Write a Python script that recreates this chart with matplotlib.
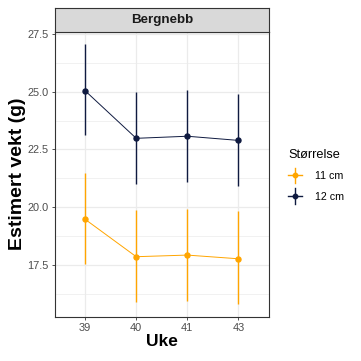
import matplotlib
matplotlib.use("Agg")
import matplotlib.pyplot as plt
from matplotlib.ticker import FixedLocator, FormatStrFormatter
from matplotlib.lines import Line2D
from matplotlib.legend_handler import HandlerBase

plt.rcParams['font.family'] = ['Liberation Sans', 'DejaVu Sans']

weeks = ["39", "40", "41", "43"]
series_names = ["11 cm", "12 cm"]
mean_11 = [19.47, 17.85, 17.92, 17.76]
low_11 = [17.52, 15.87, 15.94, 15.80]
high_11 = [21.49, 19.87, 19.91, 19.81]
mean_12 = [25.04, 22.98, 23.07, 22.89]
low_12 = [23.12, 21.01, 21.08, 20.92]
high_12 = [27.07, 24.99, 25.07, 24.90]
colors = ["#FFA500", "#0F1A40"]
facet_title = "Bergnebb"
y_ticks = [17.5, 20.0, 22.5, 25.0, 27.5]
y_minor = [16.25, 18.75, 21.25, 23.75, 26.25]

W = H = 361
fig = plt.figure(figsize=(W/100, H/100), dpi=100)

def box(l, t, r, b):
    return [l/W, 1 - b/H, (r-l)/W, (b-t)/H]

ax = fig.add_axes(box(54.5, 31.7, 269, 316.7))
strip = fig.add_axes(box(54.5, 7.5, 269, 31.7))

x = list(range(len(weeks)))
ax.set_xlim(-0.6, len(weeks) - 0.4)
ax.set_ylim(15.25, 27.6)

for v in y_ticks:
    ax.axhline(v, color="#EBEBEB", lw=0.9, zorder=0)
for v in y_minor:
    ax.axhline(v, color="#EBEBEB", lw=0.5, zorder=0)
for xi in x:
    ax.axvline(xi, color="#EBEBEB", lw=0.9, zorder=0)

for m, lo, hi, c in [(mean_11, low_11, high_11, colors[0]), (mean_12, low_12, high_12, colors[1])]:
    ax.vlines(x, lo, hi, color=c, lw=1.0, zorder=2)
    ax.plot(x, m, color=c, lw=0.7, zorder=2)
    ax.plot(x, m, 'o', color=c, ms=3.6, zorder=3)

ax.set_xticks(x)
ax.set_xticklabels(weeks)
ax.yaxis.set_major_locator(FixedLocator(y_ticks))
ax.yaxis.set_major_formatter(FormatStrFormatter('%.1f'))
ax.tick_params(axis='both', length=2.5, width=0.6, color="#333333", labelcolor="#4D4D4D",
               labelsize=7.9, pad=2)
for s in ax.spines.values():
    s.set_color("#333333")
    s.set_linewidth(0.8)

ax.set_ylabel("Estimert vekt (g)", fontsize=14, fontweight='bold', labelpad=0.5)
ax.set_xlabel("Uke", fontsize=12.5, fontweight='bold', labelpad=1)

strip.set_facecolor("#D9D9D9")
strip.set_xticks([]); strip.set_yticks([])
for s in strip.spines.values():
    s.set_color("#333333")
    s.set_linewidth(0.8)
strip.text(0.5, 0.47, facet_title, ha='center', va='center', fontsize=9.6,
           fontweight='bold', color="#1A1A1A", transform=strip.transAxes)


class CrossHandler(HandlerBase):
    def create_artists(self, legend, orig_handle, xdescent, ydescent, width, height,
                       fontsize, trans):
        c = orig_handle.get_color()
        cx = width / 2 - xdescent
        cy = height / 2 - ydescent
        h = Line2D([-xdescent, width - xdescent], [cy, cy], color=c, lw=1.0, transform=trans)
        v = Line2D([cx, cx], [cy - 5.6, cy + 5.6], color=c, lw=1.0, transform=trans)
        p = Line2D([cx], [cy], marker='o', ms=3.2, color=c, lw=0, transform=trans)
        return [h, v, p]


handles = [Line2D([0], [0], color=c) for c in colors]
leg = fig.legend(handles, series_names, title="Størrelse", loc='upper left',
                 bbox_to_anchor=(283/W, 1 - 144/H), frameon=False, fontsize=7.7,
                 title_fontproperties={'size': 9.2, 'weight': 'normal'},
                 handlelength=1.25, handletextpad=1.2,
                 labelspacing=1.0, borderpad=0,
                 handler_map={Line2D: CrossHandler()})
leg._legend_box.align = "left"
leg._legend_box.sep = 7

fig.savefig("out.png", dpi=100)
